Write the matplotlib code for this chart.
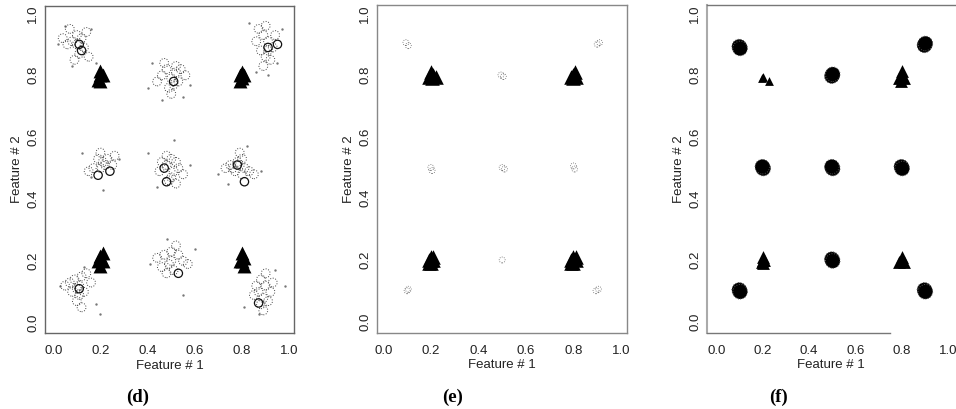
import matplotlib.pyplot as plt

# ---- panel (d): wide clusters of class 1 (circles), class 2 (triangles)
d_circ_x = [0.10, 0.08, 0.12, 0.13, 0.11, 0.06, 0.09, 0.14, 0.07, 0.10, 0.15, 0.04,
            0.48, 0.52, 0.50, 0.51, 0.46, 0.54, 0.49, 0.53, 0.47, 0.44, 0.56, 0.50, 0.52,
            0.89, 0.91, 0.93, 0.88, 0.90, 0.87, 0.92, 0.86, 0.90, 0.94, 0.89, 0.91,
            0.19, 0.21, 0.22, 0.17, 0.23, 0.25, 0.20, 0.15, 0.26, 0.20,
            0.48, 0.50, 0.52, 0.49, 0.51, 0.46, 0.53, 0.50, 0.45, 0.55, 0.48, 0.52,
            0.78, 0.79, 0.76, 0.81, 0.83, 0.75, 0.80, 0.77, 0.73, 0.85, 0.79, 0.80,
            0.10, 0.11, 0.09, 0.12, 0.07, 0.11, 0.13, 0.10, 0.05, 0.14, 0.12, 0.08, 0.16,
            0.47, 0.50, 0.53, 0.49, 0.51, 0.46, 0.55, 0.48, 0.44, 0.52, 0.57, 0.50,
            0.87, 0.89, 0.88, 0.86, 0.90, 0.92, 0.88, 0.91, 0.85, 0.93, 0.89, 0.90]
d_circ_y = [0.93, 0.91, 0.92, 0.89, 0.87, 0.90, 0.85, 0.94, 0.95, 0.90, 0.86, 0.92,
            0.82, 0.83, 0.79, 0.77, 0.80, 0.82, 0.76, 0.78, 0.84, 0.78, 0.80, 0.74, 0.81,
            0.93, 0.91, 0.89, 0.88, 0.86, 0.95, 0.85, 0.91, 0.96, 0.93, 0.83, 0.88,
            0.53, 0.52, 0.51, 0.50, 0.53, 0.51, 0.55, 0.49, 0.54, 0.50,
            0.51, 0.53, 0.52, 0.46, 0.49, 0.52, 0.50, 0.47, 0.49, 0.48, 0.54, 0.45,
            0.52, 0.51, 0.50, 0.50, 0.49, 0.51, 0.53, 0.49, 0.50, 0.48, 0.55, 0.48,
            0.11, 0.12, 0.14, 0.15, 0.13, 0.09, 0.10, 0.07, 0.12, 0.16, 0.05, 0.10, 0.13,
            0.22, 0.23, 0.22, 0.19, 0.17, 0.18, 0.20, 0.16, 0.21, 0.25, 0.19, 0.20,
            0.10, 0.08, 0.06, 0.12, 0.12, 0.10, 0.14, 0.07, 0.09, 0.13, 0.04, 0.16]
d_dark_x = [0.12, 0.11, 0.47, 0.48, 0.53, 0.81, 0.78, 0.24, 0.19, 0.95, 0.87, 0.11, 0.51, 0.91]
d_dark_y = [0.88, 0.90, 0.50, 0.456, 0.16, 0.456, 0.51, 0.49, 0.477, 0.90, 0.064, 0.11, 0.78, 0.89]
# loose specks around the class-1 clusters
d_dot_x = [0.02, 0.05, 0.16, 0.18, 0.08, 0.42, 0.40, 0.58, 0.55, 0.46, 0.83, 0.97, 0.95, 0.86,
           0.91, 0.12, 0.28, 0.21, 0.16, 0.40, 0.58, 0.51, 0.44, 0.70, 0.88, 0.74, 0.82,
           0.03, 0.20, 0.18, 0.13, 0.41, 0.60, 0.55, 0.48, 0.81, 0.98, 0.94, 0.87]
d_dot_y = [0.90, 0.96, 0.95, 0.84, 0.83, 0.84, 0.76, 0.77, 0.73, 0.72, 0.97, 0.95, 0.84, 0.81,
           0.80, 0.55, 0.53, 0.43, 0.47, 0.55, 0.51, 0.59, 0.44, 0.48, 0.49, 0.45, 0.57,
           0.12, 0.03, 0.06, 0.18, 0.19, 0.24, 0.09, 0.27, 0.05, 0.12, 0.17, 0.03]
d_tri_x = [0.20, 0.20, 0.21, 0.19, 0.20, 0.79, 0.80, 0.79, 0.81, 0.80,
           0.20, 0.21, 0.20, 0.21, 0.19, 0.80, 0.81, 0.79, 0.80, 0.81]
d_tri_y = [0.80, 0.78, 0.80, 0.785, 0.815, 0.80, 0.81, 0.78, 0.80, 0.79,
           0.215, 0.20, 0.185, 0.225, 0.20, 0.20, 0.185, 0.20, 0.225, 0.21]

# ---- panel (e): tight class 1, large class 2
e_circ_x = [0.095, 0.105, 0.495, 0.505, 0.90, 0.91, 0.20, 0.205,
            0.50, 0.51, 0.80, 0.805, 0.10, 0.105, 0.50, 0.895, 0.905]
e_circ_y = [0.905, 0.895, 0.80, 0.795, 0.90, 0.905, 0.50, 0.49,
            0.50, 0.495, 0.505, 0.495, 0.10, 0.105, 0.20, 0.10, 0.105]
e_tri_x = [0.19, 0.20, 0.21, 0.22, 0.20, 0.205, 0.79, 0.80, 0.805, 0.81, 0.80,
           0.19, 0.20, 0.21, 0.20, 0.21, 0.19, 0.20, 0.79, 0.80, 0.81, 0.80, 0.79, 0.81]
e_tri_y = [0.795, 0.80, 0.80, 0.795, 0.81, 0.79, 0.795, 0.80, 0.81, 0.795, 0.79,
           0.20, 0.21, 0.20, 0.19, 0.21, 0.19, 0.20, 0.20, 0.21, 0.20, 0.19, 0.19, 0.21]

# ---- panel (f): dense class 1 disks
f_circ_x = [0.10, 0.098, 0.102, 0.50, 0.498, 0.502, 0.90, 0.898, 0.902,
            0.20, 0.202, 0.198, 0.50, 0.502, 0.498, 0.80, 0.798, 0.802,
            0.10, 0.098, 0.102, 0.50, 0.498, 0.502, 0.90, 0.898, 0.902]
f_circ_y = [0.89, 0.893, 0.887, 0.80, 0.797, 0.803, 0.90, 0.897, 0.903,
            0.50, 0.497, 0.503, 0.50, 0.497, 0.503, 0.50, 0.503, 0.497,
            0.10, 0.103, 0.097, 0.20, 0.203, 0.197, 0.10, 0.103, 0.097]
f_tri_x = [0.79, 0.80, 0.81, 0.80, 0.795, 0.20, 0.20, 0.205, 0.195, 0.20, 0.80, 0.81, 0.79, 0.80]
f_tri_y = [0.79, 0.80, 0.79, 0.815, 0.78, 0.20, 0.19, 0.20, 0.195, 0.21, 0.20, 0.195, 0.195, 0.21]
f_small_tri_x = [0.195, 0.225, 0.20]
f_small_tri_y = [0.79, 0.78, 0.795]

ticks = [0.0, 0.2, 0.4, 0.6, 0.8, 1.0]
tick_labels = ['0.0', '0.2', '0.4', '0.6', '0.8', '1.0']
panel_names = ['(d)', '(e)', '(f)']

plt.rcParams['font.family'] = ['Liberation Sans', 'DejaVu Sans']
fig = plt.figure(figsize=(9.56, 4.09), dpi=100)

W, H = 956.0, 409.0
boxes = [(45, 6, 294, 333), (376.7, 4.7, 626.7, 332.7), (707, 5, 955, 332.7)]
xlims = [(-0.035, 1.02), (-0.028, 1.024), (-0.041, 1.03)]
ylims = [(-0.033, 1.024), (-0.036, 1.028), (-0.036, 1.028)]
spine_cols = ['#666666', '#888888', '#777777']
fs = 9.5

axes = []
for i, (l, t, r, b) in enumerate(boxes):
    ax = fig.add_axes([l / W, 1 - b / H, (r - l) / W, (b - t) / H])
    ax.set_xlim(*xlims[i])
    ax.set_ylim(*ylims[i])
    ax.set_xticks(ticks)
    ax.set_xticklabels(tick_labels, fontsize=fs, color='#222222')
    ax.set_yticks(ticks)
    ax.set_yticklabels(tick_labels, fontsize=fs, color='#222222', rotation=90, va='center')
    ax.tick_params(length=0)
    ax.tick_params(axis='x', pad=8.5)
    ax.tick_params(axis='y', pad=4)
    ax.set_xlabel('Feature # 1', fontsize=fs, color='#222222', labelpad=2)
    ax.set_ylabel('Feature # 2', fontsize=fs, color='#222222', labelpad=3)
    for s in ax.spines.values():
        s.set_color(spine_cols[i])
        s.set_linewidth(1.0)
    axes.append(ax)

ax_d, ax_e, ax_f = axes

# (d)
ax_d.scatter(d_dot_x, d_dot_y, s=3, color='#777777', linewidths=0)
ax_d.scatter(d_circ_x, d_circ_y, s=40, facecolors='none', edgecolors='#444444',
             linewidths=0.7, linestyle=':')
ax_d.scatter(d_dark_x, d_dark_y, s=36, facecolors='none', edgecolors='#111111',
             linewidths=0.9)
ax_d.scatter(d_tri_x, d_tri_y, s=100, marker='^', color='black', linewidths=0)

# (e)
ax_e.scatter(e_circ_x, e_circ_y, s=18, facecolors='none', edgecolors='#666666',
             linewidths=0.6, linestyle=':')
ax_e.scatter(e_tri_x, e_tri_y, s=110, marker='^', color='black', linewidths=0)

# (f)
ax_f.scatter(f_circ_x, f_circ_y, s=110, color='black', edgecolors='#555555',
             linewidths=0.7, linestyle=':')
ax_f.scatter(f_tri_x, f_tri_y, s=85, marker='^', color='black', linewidths=0)
ax_f.scatter(f_small_tri_x, f_small_tri_y, s=40, marker='^', color='black', linewidths=0)
ax_f.spines['right'].set_visible(False)
ax_f.spines['left'].set_color('#aaaaaa')
ax_f.spines['left'].set_linewidth(1.5)
ax_f.spines['bottom'].set_bounds(xlims[2][0], 0.75)

label_x = [138, 453, 778]
for name, lx in zip(panel_names, label_x):
    fig.text(lx / W, 1 - 397 / H, name, ha='center', va='center', fontsize=13.5,
             fontweight='bold', family=['Liberation Serif', 'DejaVu Serif'])

fig.savefig('out.png', dpi=100)
